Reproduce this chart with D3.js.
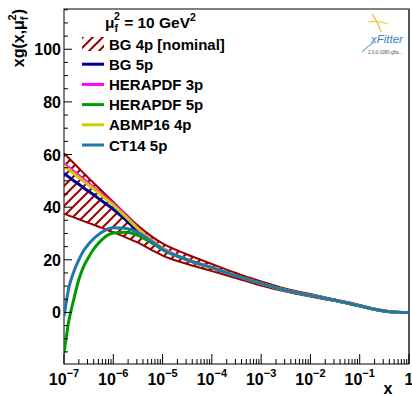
<!DOCTYPE html>
<html>
<head>
<meta charset="utf-8">
<script src="https://cdn.jsdelivr.net/npm/d3@7"></script>
<style>
  body { margin: 0; background: #fff; }
  svg { display: block; font-family: "Liberation Sans", Arial, sans-serif; font-weight: bold; }
</style>
</head>
<body>
<svg id="chart" width="412" height="397"></svg>
<script>
// x grid shared by all series
const xGrid = [1e-7, 1.26e-7, 1.58e-7, 2e-7, 2.51e-7, 3.16e-7, 3.98e-7, 5.62e-7, 1e-6, 1.78e-6,
  3.16e-6, 5.62e-6, 1e-5, 3.16e-5, 1e-4, 3.16e-4, 1e-3, 3.16e-3, 1e-2, 3.16e-2, 0.1, 0.178, 0.316, 0.562, 1];

// BG 4p [nominal] uncertainty band
const bandUpper = [60.5, 58.6, 56.7, 54.8, 52.9, 51, 49.2, 46.5, 42, 37.4, 33, 29.3, 26.2, 22.0, 18.4, 14.9, 11.8, 9.0, 7.0, 4.9, 2.8, 1.6, 0.6, 0.15, 0];
const bandLower = [37.5, 36.8, 36.1, 35.4, 34.7, 34, 33.3, 32.2, 30.5, 28.5, 26.5, 24.0, 21.6, 18.4, 15.7, 13.0, 10.2, 7.9, 6.0, 4.3, 2.3, 1.2, 0.35, 0.05, 0];

const bg5p     = [52.8, 51.4, 50.0, 48.7, 47.3, 46, 44.7, 42.6, 39.2, 35.2, 30.8, 27.2, 24.2, 20, 17, 13.9, 11, 8.4, 6.5, 4.6, 2.5, 1.4, 0.5, 0.1, 0];
const hera3p   = [56.5, 55, 53.5, 52, 50.5, 49, 47.5, 45.2, 41.3, 36.8, 32, 27.8, 24.4, 20, 17, 13.9, 11, 8.4, 6.5, 4.6, 2.5, 1.4, 0.5, 0.1, 0];
const hera5p   = [-15.5, -3, 5, 12.5, 17.5, 21, 24, 27.3, 30.2, 30.5, 29.3, 26.8, 23.8, 20, 17, 13.9, 11, 8.4, 6.5, 4.6, 2.5, 1.4, 0.5, 0.1, 0];
const abmp16   = [55.8, 54.3, 52.8, 51.3, 49.8, 48.4, 47, 44.7, 40.8, 36.4, 31.8, 27.7, 24.3, 20, 17, 13.9, 11, 8.4, 6.5, 4.6, 2.5, 1.4, 0.5, 0.1, 0];
const ct14     = [-1.5, 9.5, 15.5, 20, 23.5, 26, 28, 30.3, 32.2, 32, 30.3, 27.3, 24, 20, 17, 13.9, 11, 8.4, 6.5, 4.6, 2.5, 1.4, 0.5, 0.1, 0];

const seriesNames = ["BG 5p", "HERAPDF 3p", "HERAPDF 5p", "ABMP16 4p", "CT14 5p"];
const seriesValues = [bg5p, hera3p, hera5p, abmp16, ct14];
const seriesColors = ["#000099", "#ff00ff", "#009900", "#cccc00", "#2277aa"];

const svg = d3.select("#chart");
const mLeft = 64, mRight = 409, mTop = 9, mBottom = 364;

const x = d3.scaleLog().domain([1e-7, 1]).range([mLeft, mRight]);
const y = d3.scaleLinear().domain([-19.6, 115.3]).range([mBottom, mTop]);

const defs = svg.append("defs");
defs.append("clipPath").attr("id", "frame")
  .append("rect").attr("x", mLeft).attr("y", mTop).attr("width", mRight - mLeft).attr("height", mBottom - mTop);
const hatch = defs.append("pattern").attr("id", "hatch")
  .attr("patternUnits", "userSpaceOnUse").attr("width", 10).attr("height", 10);
hatch.append("path").attr("d", "M-2,2 L2,-2 M0,10 L10,0 M8,12 L12,8")
  .attr("stroke", "#990000").attr("stroke-width", 2);

// frame
svg.append("rect").attr("x", mLeft).attr("y", mTop).attr("width", mRight - mLeft).attr("height", mBottom - mTop)
  .attr("fill", "none").attr("stroke", "#000").attr("stroke-width", 1);
svg.append("line").attr("x1", mRight).attr("x2", mRight).attr("y1", mTop).attr("y2", mBottom)
  .attr("stroke", "#555").attr("stroke-width", 2);

const plot = svg.append("g").attr("clip-path", "url(#frame)");

const band = xGrid.map((d, i) => ({ x: d, lo: bandLower[i], hi: bandUpper[i] }));
plot.append("path").datum(band)
  .attr("d", d3.area().curve(d3.curveMonotoneX).x(d => x(d.x)).y0(d => y(d.lo)).y1(d => y(d.hi)))
  .attr("fill", "url(#hatch)");
["lo", "hi"].forEach(k => {
  plot.append("path").datum(band)
    .attr("d", d3.line().curve(d3.curveMonotoneX).x(d => x(d.x)).y(d => y(d[k])))
    .attr("fill", "none").attr("stroke", "#990000").attr("stroke-width", 2);
});

const line = d3.line().curve(d3.curveMonotoneX).x(d => x(d[0])).y(d => y(d[1]));
seriesValues.forEach((vals, i) => {
  plot.append("path").datum(xGrid.map((d, j) => [d, vals[j]]))
    .attr("d", line)
    .attr("fill", "none").attr("stroke", seriesColors[i]).attr("stroke-width", 3);
});

// x axis ticks (inside)
const xt = svg.append("g");
x.ticks().forEach(t => {
  const major = Math.abs(Math.log10(t) - Math.round(Math.log10(t))) < 1e-9;
  xt.append("line").attr("x1", x(t)).attr("x2", x(t)).attr("y1", mBottom).attr("y2", mBottom - (major ? 10 : 5))
    .attr("stroke", "#000").attr("stroke-width", 1);
  if (major) {
    const e = Math.round(Math.log10(t));
    const lab = xt.append("text").attr("x", x(t)).attr("y", 385).attr("text-anchor", "middle")
      .attr("font-size", 16);
    if (e === 0) lab.text("1");
    else {
      lab.append("tspan").text("10");
      lab.append("tspan").attr("dy", -8).attr("font-size", 11).text("\u2212" + (-e));
    }
  }
});
svg.append("text").attr("x", 388).attr("y", 394).attr("text-anchor", "middle").attr("font-size", 16).text("x");

// y axis ticks (inside)
const yt = svg.append("g");
y.ticks(27).forEach(t => {
  const major = t % 20 === 0;
  yt.append("line").attr("x1", mLeft).attr("x2", mLeft + (major ? 8 : 4)).attr("y1", y(t)).attr("y2", y(t))
    .attr("stroke", "#000").attr("stroke-width", 1);
  if (major) {
    yt.append("text").attr("x", 61).attr("y", y(t) + 6).attr("text-anchor", "end")
      .attr("font-size", 16).text(t);
  }
});

const yTitle = svg.append("text").attr("transform", "translate(24,9) rotate(-90)")
  .attr("text-anchor", "end").attr("font-size", 16);
yTitle.append("tspan").text("xg(x,\u03bc");
yTitle.append("tspan").attr("dy", 4).attr("font-size", 11).text("f");
yTitle.append("tspan").attr("dx", -4).attr("dy", -12).attr("font-size", 11).text("2");
yTitle.append("tspan").attr("dy", 8).text(")");

// legend
const header = svg.append("text").attr("x", 105).attr("y", 28).attr("font-size", 15.5);
header.append("tspan").text("\u03bc");
header.append("tspan").attr("dy", 4).attr("font-size", 10.5).text("f");
header.append("tspan").attr("dx", -4).attr("dy", -12).attr("font-size", 10.5).text("2");
header.append("tspan").attr("dy", 8).text(" = 10 GeV");
header.append("tspan").attr("dy", -7).attr("font-size", 10.5).text("2");

const legNames = ["BG 4p [nominal]"].concat(seriesNames);
legNames.forEach((name, i) => {
  const cy = 44 + i * 20.2;
  if (i === 0) {
    svg.append("rect").attr("x", 82).attr("y", cy - 7).attr("width", 22).attr("height", 14)
      .attr("fill", "url(#hatch)");
  } else {
    svg.append("line").attr("x1", 82).attr("x2", 104).attr("y1", cy).attr("y2", cy)
      .attr("stroke", seriesColors[i - 1]).attr("stroke-width", 3);
  }
  svg.append("text").attr("x", 109).attr("y", cy + 5.5).attr("font-size", 15).text(name);
});

// xFitter logo
const logo = svg.append("g");
logo.append("path").attr("d", "M372,14 Q378,22 381,32").attr("fill", "none").attr("stroke", "#f2c94c").attr("stroke-width", 1.5);
logo.append("path").attr("d", "M368,22 Q378,20 388,24").attr("fill", "none").attr("stroke", "#f2c94c").attr("stroke-width", 1.2);
logo.append("path").attr("d", "M362,52 Q368,46 374,42").attr("fill", "none").attr("stroke", "#6fb1e0").attr("stroke-width", 1.2);
logo.append("text").attr("x", 371).attr("y", 43).attr("font-size", 11.5).attr("font-style", "italic")
  .attr("font-weight", "normal").attr("fill", "#3a7fc4").text("xFitter");
logo.append("text").attr("x", 368).attr("y", 54).attr("font-size", 4.5).attr("font-weight", "normal")
  .attr("fill", "#555").text("2.0.0-1080-g8a...");
</script>
</body>
</html>
